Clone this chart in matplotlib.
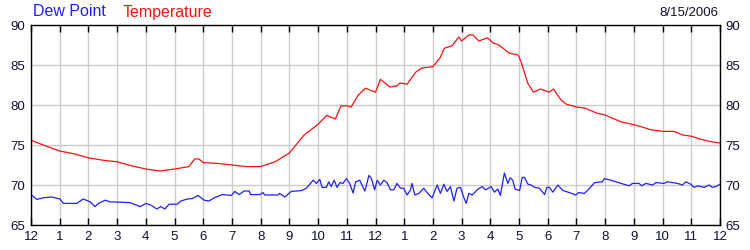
import matplotlib
matplotlib.use("Agg")
import matplotlib.pyplot as plt
import numpy as np

plt.rcParams['font.family'] = ['Liberation Sans', 'DejaVu Sans']

# temperature readings (hour of day, deg F)
temp_h = [0, 0.5, 1, 1.5, 2, 2.5, 3, 3.5, 4, 4.5, 5, 5.5, 5.7, 5.85, 6, 6.5, 7, 7.5, 8,
          8.5, 9, 9.5, 10, 10.3, 10.6, 10.8, 11, 11.15, 11.4, 11.65, 12, 12.17, 12.5, 12.75,
          12.85, 13.1, 13.4, 13.6, 14.0, 14.25, 14.4, 14.67, 14.9, 15.0, 15.25, 15.4, 15.6,
          15.9, 16.1, 16.3, 16.65, 16.97, 17.07, 17.3, 17.5, 17.75, 18.05, 18.2, 18.47, 18.65,
          19.0, 19.3, 19.7, 20.0, 20.55, 21.05, 21.6, 22.0, 22.4, 22.7, 23.0, 23.3, 23.7, 24]
temp_v = [75.6, 74.9, 74.25, 73.9, 73.4, 73.1, 72.9, 72.4, 72.0, 71.75, 72.0, 72.3, 73.25, 73.25,
          72.8, 72.7, 72.5, 72.3, 72.3, 72.9, 74.0, 76.2, 77.6, 78.7, 78.25, 79.9, 79.9, 79.75,
          81.25, 82.1, 81.6, 83.2, 82.25, 82.4, 82.75, 82.6, 84.1, 84.6, 84.8, 85.9, 87.1, 87.4,
          88.5, 88.0, 88.75, 88.75, 88.0, 88.4, 87.75, 87.5, 86.5, 86.25, 85.4, 82.75, 81.6,
          82.0, 81.6, 82.0, 80.6, 80.1, 79.75, 79.6, 79.0, 78.75, 77.9, 77.5, 76.9, 76.7, 76.7,
          76.25, 76.1, 75.75, 75.4, 75.25]

# dew point readings
dew_h = [0, 0.2, 0.43, 0.72, 1.01, 1.13, 1.59, 1.82, 2.06, 2.23, 2.35, 2.58, 2.75, 3.45, 3.8,
         4.01, 4.17, 4.38, 4.52, 4.66, 4.81, 5.1, 5.22, 5.45, 5.62, 5.82, 6.03, 6.2, 6.38, 6.67,
         6.98, 7.1, 7.25, 7.42, 7.6, 7.65, 7.98, 8.08, 8.14, 8.61, 8.66, 8.84, 9.07, 9.42, 9.59,
         9.83, 9.94, 10.06, 10.14, 10.29, 10.37, 10.46, 10.56, 10.66, 10.76, 10.87, 10.99, 11.1,
         11.22, 11.31, 11.45, 11.63, 11.77, 11.86, 11.97, 12.06, 12.17, 12.29, 12.4, 12.52,
         12.64, 12.75, 12.87, 12.98, 13.1, 13.22, 13.27, 13.37, 13.51, 13.68, 13.8, 13.97,
         14.15, 14.26, 14.38, 14.49, 14.61, 14.73, 14.84, 14.96, 15.07, 15.16, 15.25, 15.37,
         15.54, 15.71, 15.83, 16.03, 16.14, 16.26, 16.35, 16.49, 16.61, 16.69, 16.78, 16.86,
         17.02, 17.11, 17.19, 17.31, 17.42, 17.54, 17.71, 17.89, 17.97, 18.06, 18.18, 18.35,
         18.53, 18.76, 18.97, 19.08, 19.28, 19.46, 19.63, 19.9, 19.97, 20.2, 20.55, 20.84,
         20.95, 21.18, 21.27, 21.42, 21.65, 21.77, 22.05, 22.17, 22.52, 22.69, 22.81, 22.98,
         23.1, 23.22, 23.45, 23.62, 23.73, 23.85, 24.0]
dew_v = [68.8, 68.2, 68.4, 68.5, 68.25, 67.7, 67.7, 68.25, 67.9, 67.3, 67.7, 68.1, 67.9, 67.8,
         67.3, 67.7, 67.5, 67.0, 67.3, 67.0, 67.6, 67.6, 68.0, 68.25, 68.3, 68.7, 68.1, 68.0,
         68.4, 68.8, 68.7, 69.2, 68.8, 69.25, 69.25, 68.8, 68.8, 69.05, 68.75, 68.75, 68.95,
         68.5, 69.2, 69.3, 69.6, 70.6, 70.2, 70.7, 69.7, 69.7, 70.4, 69.8, 70.6, 69.7, 70.3,
         70.2, 70.8, 70.2, 69.0, 70.4, 70.6, 69.25, 71.2, 70.8, 69.4, 70.6, 70.0, 70.6, 70.3,
         69.4, 69.4, 70.2, 69.6, 69.6, 68.75, 69.4, 70.2, 68.75, 68.95, 69.6, 69.05, 68.4,
         70.0, 68.95, 70.1, 69.2, 69.8, 68.0, 69.6, 69.7, 68.5, 67.7, 68.95, 68.75, 69.4, 69.8,
         69.4, 69.8, 69.1, 69.5, 68.7, 71.5, 70.2, 70.9, 70.6, 69.5, 69.3, 70.95, 70.95, 70.1,
         70.0, 69.7, 69.6, 68.8, 69.7, 69.7, 69.1, 70.0, 69.3, 69.05, 68.75, 69.05, 68.95,
         69.6, 70.3, 70.4, 70.8, 70.6, 70.2, 69.9, 70.2, 70.2, 69.9, 70.2, 70.0, 70.3, 70.2,
         70.4, 70.2, 70.0, 70.4, 70.1, 69.7, 69.9, 69.7, 70.0, 69.7, 69.8, 70.1]

hour_labels = ['12'] + [str(i) for i in range(1, 12)] + ['12'] + [str(i) for i in range(1, 12)] + ['12']
y_ticks = [65, 70, 75, 80, 85, 90]
date_text = '8/15/2006'

fig = plt.figure(figsize=(7.5, 2.5), dpi=100)
ax = fig.add_axes([31 / 750, 25 / 250, 689 / 750, 200 / 250])

ax.plot(temp_h, temp_v, color='#ff1010', lw=0.9)
ax.plot(dew_h, dew_v, color='#2020ff', lw=0.9)

ax.set_xlim(0, 24)
ax.set_ylim(65, 90)
ax.set_xticks(range(25))
ax.set_xticklabels(hour_labels)
ax.set_yticks(y_ticks)
ax.grid(True, color='#cccccc', lw=1.0)
ax.set_axisbelow(True)
for s in ax.spines.values():
    s.set_color('black')
    s.set_linewidth(1.0)

ax.tick_params(axis='x', direction='in', length=5, width=1, top=True, bottom=True,
               labelsize=9.5, pad=4, labelcolor='#101030')
ax.tick_params(axis='y', length=0, left=True, right=True, labelleft=True, labelright=True,
               labelsize=9.5, pad=4, labelcolor='#101030')

fig.text(33 / 750, 1 - 12 / 250, 'Dew Point', color='#2020ff', fontsize=11.5, va='center', ha='left')
fig.text(123 / 750, 1 - 12 / 250, 'Temperature', color='#ff1010', fontsize=11.5, va='center', ha='left')
fig.text(718 / 750, 1 - 13 / 250, date_text, color='#101030', fontsize=9.5, va='center', ha='right')

fig.savefig('out.png', dpi=100, facecolor='white')
